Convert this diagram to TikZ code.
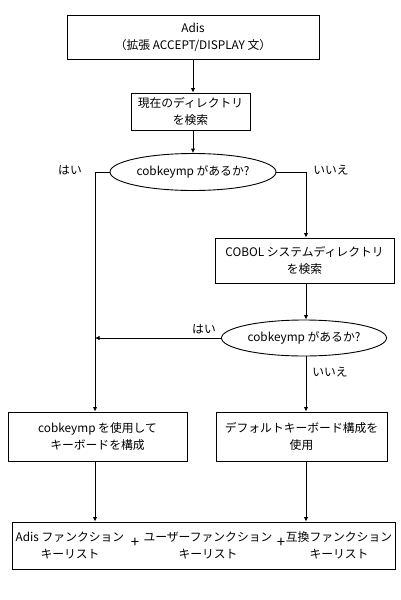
\documentclass[tikz,border=0pt]{standalone}
\usepackage{fontspec}
\setmainfont{Noto Sans CJK JP}
\usetikzlibrary{arrows.meta,shapes.geometric}
\begin{document}
\begin{tikzpicture}[x=1pt,y=-1pt,line width=0.9pt,
  box/.style={draw,align=center,inner sep=0pt,font=\fontsize{11.8}{17}\selectfont},
  decision/.style={draw,ellipse,inner sep=0pt,font=\fontsize{11.8}{17}\selectfont},
  lbl/.style={align=center,inner sep=1pt,font=\fontsize{11.8}{17}\selectfont},
  plus/.style={inner sep=0pt,font=\fontsize{15}{17}\selectfont},
  flow/.style={-{Latex[length=4.5pt,width=4.5pt]}}]
\useasboundingbox (0,0) rectangle (400,600);
%\draw[step=50,gray,very thin] (0,0) grid (400,600); %background grid
% boxes
\node[box,minimum width=252pt,minimum height=44pt] (adis) at (193,37) {Adis\\（拡張 ACCEPT/DISPLAY 文）};
\node[box,minimum width=119pt,minimum height=37pt] (curdir) at (190.5,111.5) {現在のディレクトリ\\を検索};
\node[decision,minimum width=166pt,minimum height=37pt] (haskey) at (193,172) {cobkeymp があるか?};
\node[box,minimum width=179pt,minimum height=45pt] (sysdir) at (304.5,260.5) {COBOL システムディレクトリ\\を検索};
\node[decision,minimum width=165pt,minimum height=36pt] (haskeyb) at (304,338) {cobkeymp があるか?};
\node[box,minimum width=179pt,minimum height=49pt] (usekey) at (97.5,436.5) {cobkeymp を使用して\\キーボードを構成};
\node[box,minimum width=171pt,minimum height=49pt] (dflt) at (301.5,436.5) {デフォルトキーボード構成を\\使用};
\node[box,minimum width=383pt,minimum height=47pt] (keys) at (203.5,545.5) {};
\node[lbl] (adiskeys) at (70,545.5) {Adis ファンクション\\キーリスト};
\node[plus] (plusa) at (135,543) {+};
\node[lbl] (userkeys) at (208,545.5) {ユーザーファンクション\\キーリスト};
\node[plus] (plusb) at (281,543) {+};
\node[lbl] (compkeys) at (339,545.5) {互換ファンクション\\キーリスト};
% answers
\node[lbl] (yesa) at (70,170) {はい};
\node[lbl] (noa) at (331,170) {いいえ};
\node[lbl] (yesb) at (204,329) {はい};
\node[lbl] (nob) at (330,372) {いいえ};
% connectors
\coordinate (lx) at (95,172);
\coordinate (rx) at (306,172);
\draw[flow] (adis.south) -- (adis.south |- curdir.north);
\draw[flow] (adis.south |- curdir.south) -- (haskey.north);
\draw[flow] (haskey.west) -| (lx |- usekey.north);
\draw[flow] (haskey.east) -| (rx |- sysdir.north);
\draw[flow] (rx |- sysdir.south) -- (rx |- haskeyb.north);
\draw[flow] (haskeyb.west) -- (lx |- haskeyb.west);
\draw[flow] (rx |- haskeyb.south) -- (rx |- dflt.north);
\draw[flow] (lx |- usekey.south) -- (lx |- keys.north);
\draw[flow] (rx |- dflt.south) -- (rx |- keys.north);
\end{tikzpicture}
\end{document}
